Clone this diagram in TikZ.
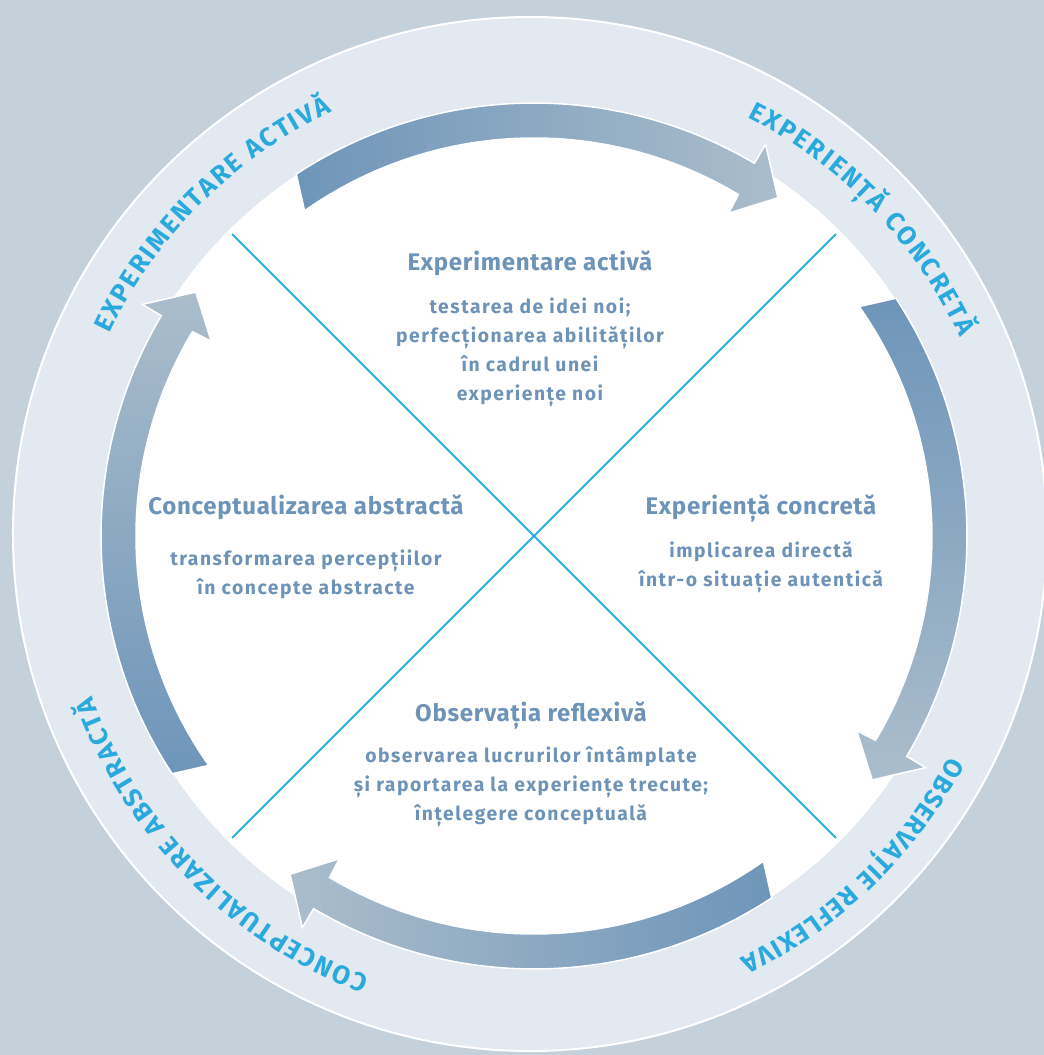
\documentclass[tikz,border=0pt]{standalone}
\usepackage{fontspec}
\setmainfont{Fira Sans}
\newfontfamily\phasefamily{Fira Sans}[LetterSpace=3]
\newfontfamily\detailfamily{Fira Sans}[LetterSpace=8]
\usetikzlibrary{positioning, decorations.text}

\definecolor{backdrop}{HTML}{C4D1DA}
\definecolor{ringfill}{HTML}{E3E9F0}
\definecolor{arrowdark}{HTML}{6E95B9}
\definecolor{arrowlight}{HTML}{ABBDCB}
\definecolor{crosscyan}{HTML}{2AAFE0}
\definecolor{ringcyan}{HTML}{2AA9DD}
\definecolor{textblue}{HTML}{6E93B8}

\newcommand\ringtype{\fontsize{26}{26}\selectfont\bfseries}

\begin{document}
\begin{tikzpicture}[x=1pt,y=1pt,node distance=21pt,
every node/.style={inner sep=0pt},
phase/.style={text=textblue,font=\phasefamily\fontsize{24}{28}\selectfont\bfseries},
detail/.style={text=textblue,align=center,font=\detailfamily\fontsize{19.3}{29}\selectfont\bfseries},
cycle arrow/.style={top color=arrowdark,bottom color=arrowlight,draw=white,line width=1.5pt},
crossline/.style={draw=crosscyan,line width=2pt},
ringlabel/.style={decorate,decoration={text along path,text={|\ringtype|#1},text align={fit to path},text color=ringcyan}}]
% background and rings
\fill[backdrop] (-534,-519) rectangle (510,536);
\useasboundingbox (-534,-519) rectangle (510,536);
\filldraw[fill=ringfill,draw=white,line width=2pt] (-4,2) circle[radius=517];
\fill[white] (0,0) circle[radius=432];
% the four arrows of the cycle
\foreach \r/\s in {0/90,-90/0,-180/-90,-270/-180}
  \shadedraw[cycle arrow,shading angle=\s] ({123.3+\r}:433) arc[start angle={123.3+\r},end angle={59.4+\r},radius=433]
    -- ({59.4+\r}:455) -- ({54.2+\r}:417) -- ({58.9+\r}:377) -- ({59.1+\r}:398)
    arc[start angle={59.1+\r},end angle={125.2+\r},radius=398] -- cycle;
% cross
\coordinate (nw) at (135:427);
\coordinate (ne) at (45:427);
\coordinate (sw) at (-135:427);
\coordinate (se) at (-45:427);
\draw[crossline] (nw) -- (se);
\draw[crossline] (ne) -- (sw);
% ring labels
\path[ringlabel={EXPERIMENTARE ACTIVĂ}] (154.5:470) arc[start angle=154.5,end angle=115.5,radius=470];
\path[ringlabel={EXPERIENȚĂ CONCRETĂ}] (63:470) arc[start angle=63,end angle=25,radius=470];
\path[ringlabel={OBSERVAȚIE REFLEXIVA}] (-28:470) arc[start angle=-28,end angle=-64,radius=470];
\path[ringlabel={CONCEPTUALIZARE ABSTRACTĂ}] (-110.5:470) arc[start angle=-110.5,end angle=-160,radius=470];
% quadrant texts
\node[phase,anchor=base] (active) at (-4,265) {Experimentare activă};
\node[detail,below=of active] (activeText) {testarea de idei noi;\\perfecționarea abilităților\\în cadrul unei\\experiențe noi};
\node[phase,anchor=base] (abstract) at (-228,22) {Conceptualizarea abstractă};
\node[detail,below=30pt of abstract] (abstractText) {transformarea percepțiilor\\în concepte abstracte};
\node[phase,anchor=base] (concrete) at (227,22) {Experiență concretă};
\node[detail,below=19pt of concrete] (concreteText) {implicarea directă\\într-o situație autentică};
\node[phase,anchor=base] (reflect) at (-3,-185) {Observația reflexivă};
\node[detail,below=17pt of reflect] (reflectText) {observarea lucrurilor întâmplate\\și raportarea la experiențe trecute;\\înțelegere conceptuală};
\end{tikzpicture}
\end{document}
